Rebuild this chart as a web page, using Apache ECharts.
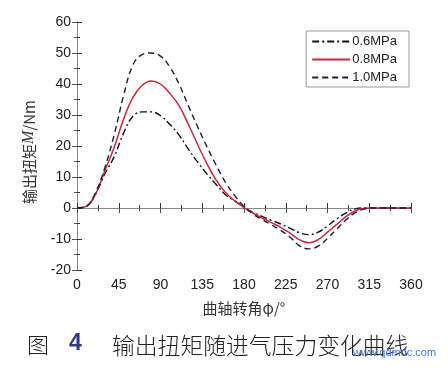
<!DOCTYPE html>
<html><head><meta charset="utf-8">
<script src="https://cdn.jsdelivr.net/npm/echarts@6/dist/echarts.min.js"></script>
<style>html,body{margin:0;padding:0;background:#fff}#c{width:448px;height:368px}</style>
</head><body><div id="c"></div>
<script>
const angles = [0,10,20,30,40,50,60,70,80,90,100,110,120,130,140,150,160,170,180,190,200,210,220,230,240,250,260,270,280,290,300,310,320,330,340,350,360];
const p06 = [0,0.5,4.5,11,16.5,24,29.5,31,31,29.8,27,23.5,19,14.8,11,7.6,4.3,2.3,0.2,-1.5,-2.8,-4,-5.2,-6.6,-8,-8.6,-7.8,-5.8,-3.5,-1.6,-0.3,0,0,0,0,0,0];
const p08 = [0,0.5,4.5,12,19.5,28.5,35.5,39.5,41,40,37,33,27,20.5,14.3,9,5,2.3,0.2,-1.7,-3.3,-4.8,-6.3,-8.2,-10.3,-11.2,-10.2,-7.8,-5.3,-2.8,-0.9,-0.1,0,0,0,0,0];
const p10 = [0,0.5,5,13,23.5,36,46,49.5,50,49,45.5,40,33,26.2,19.8,13.8,8.3,4,0.5,-2,-3.8,-5.5,-7.3,-9.5,-12.2,-13.2,-12.3,-9.8,-6.8,-3.8,-1.5,-0.3,0,0,0,0,0];
const seriesNames = ['0.6MPa','0.8MPa','1.0MPa'];
const xTicks = [0,45,90,135,180,225,270,315,360];
const yTicks = [-20,-10,0,10,20,30,40,50,60];

const pairs = arr => angles.map((a,i)=>[a,arr[i]]);
const axisLbl = {fontFamily:'Liberation Sans, Arial', fontSize:14, color:'#222'};
const axLine = {show:true, lineStyle:{color:'#333', width:1}};
const chart = echarts.init(document.getElementById('c'), null, {renderer:'canvas'});
chart.setOption({
  animation:false,
  backgroundColor:'#fff',
  grid:{left:77, right:37, top:22, bottom:98},
  legend:{
    show:true, orient:'vertical', right:39, top:31,
    data:seriesNames, itemWidth:38, itemHeight:12, itemGap:5,
    itemStyle:{opacity:0},
    textStyle:{fontFamily:'Liberation Sans, Arial', fontSize:13, color:'#222', padding:[0,0,0,-3]},
    borderColor:'#999', borderWidth:1, padding:[4,12,3,5], backgroundColor:'#fff'
  },
  xAxis:[{
    type:'value', min:0, max:360, interval:45,
    name:'曲轴转角φ/°', nameLocation:'middle', nameGap:31,
    nameTextStyle:{fontFamily:'Noto Sans CJK SC', fontSize:15, color:'#333'},
    axisLine:axLine, axisTick:{inside:true, length:5, lineStyle:{color:'#333'}},
    minorTick:{show:true, splitNumber:2, length:3, lineStyle:{color:'#333'}},
    axisLabel:Object.assign({margin:8}, axisLbl), splitLine:{show:false}
  },{
    type:'value', min:0, max:360, interval:45, position:'top',
    axisLine:{show:true, lineStyle:{color:'#888'}}, axisTick:{inside:true, length:5, lineStyle:{color:'#555'}},
    minorTick:{show:true, splitNumber:2, length:3, lineStyle:{color:'#555'}},
    axisLabel:{show:false}, splitLine:{show:false}
  }],
  yAxis:[{
    type:'value', min:-20, max:60, interval:10,
    name:'输出扭矩{i|M}/Nm', nameLocation:'middle', nameGap:40, nameRotate:90,
    nameTextStyle:{fontFamily:'Noto Sans CJK SC', fontSize:15, color:'#333', padding:[0,0,0,-12],
      rich:{i:{fontStyle:'italic', fontFamily:'Liberation Serif', fontSize:16, color:'#333'}}},
    axisLine:axLine, axisTick:{inside:true, length:5, lineStyle:{color:'#333'}},
    minorTick:{show:true, splitNumber:2, length:3, lineStyle:{color:'#333'}},
    axisLabel:Object.assign({margin:6}, axisLbl), splitLine:{show:false}
  },{
    type:'value', min:-20, max:60, interval:10, position:'right',
    axisLine:{show:true, lineStyle:{color:'#888'}}, axisTick:{inside:true, length:5, lineStyle:{color:'#555'}},
    minorTick:{show:true, splitNumber:2, length:3, lineStyle:{color:'#555'}},
    axisLabel:{show:false}, splitLine:{show:false}
  }],
  series:[
    {name:seriesNames[0], type:'line', data:pairs(p06), smooth:0.4, symbol:'none',
     lineStyle:{color:'#111', width:1.4, type:[7,3,2,3]}, itemStyle:{color:'#111'}},
    {name:seriesNames[1], type:'line', data:pairs(p08), smooth:0.4, symbol:'none',
     lineStyle:{color:'#c42a3c', width:1.5}, itemStyle:{color:'#c42a3c'}},
    {name:seriesNames[2], type:'line', data:pairs(p10), smooth:0.4, symbol:'none',
     lineStyle:{color:'#1b1f33', width:1.4, type:[6,4]}, itemStyle:{color:'#1b1f33'}}
  ],
  graphic:[
    {type:'text', left:27, top:334, style:{text:'图', font:'300 22px "Noto Sans CJK SC"', fill:'#222'}},
    {type:'text', left:69, top:332, style:{text:'4', font:'bold 23px "Liberation Sans", Arial', fill:'#2d3a8c'}},
    {type:'text', left:112, top:334, style:{text:'输出扭矩随进气压力变化曲线', font:'300 22.8px "Noto Sans CJK SC"', fill:'#222'}},
    {type:'text', left:353, top:347, style:{text:'www.qdmdc.com', font:'11px "Liberation Sans", Arial', fill:'#3a7bd5'}}
  ]
});
</script></body></html>
